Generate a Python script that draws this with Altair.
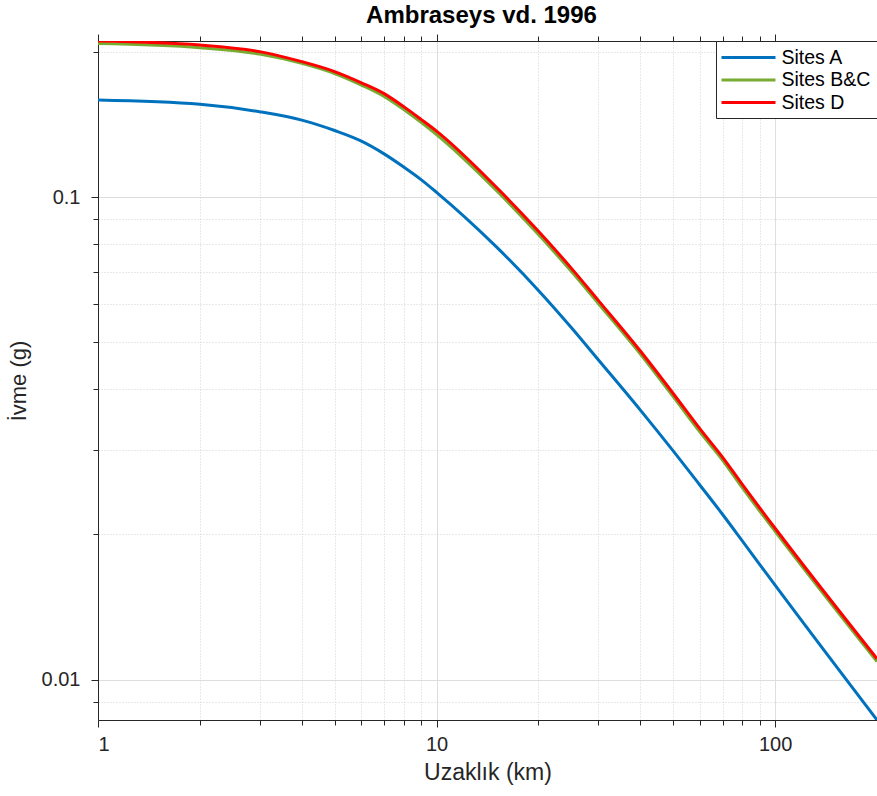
import altair as alt
import pandas as pd

# Ambraseys et al. (1996) peak ground acceleration vs. distance
distance_km = [1, 2, 3, 4, 5, 6, 7, 8, 9, 10, 15, 20, 25, 30, 40, 50, 60, 70, 80, 100, 200]
sites_a = [0.1590, 0.1558, 0.1504, 0.1445, 0.1375, 0.1307, 0.1230, 0.1155, 0.1088, 0.1024,
           0.0790, 0.0641, 0.0537, 0.0461, 0.0362, 0.0298, 0.0253, 0.0220, 0.0194, 0.0157, 0.00825]
sites_bc = [0.2082, 0.2042, 0.1981, 0.1895, 0.1805, 0.1708, 0.1618, 0.1520, 0.1430, 0.1349,
            0.1034, 0.0837, 0.0702, 0.0603, 0.0473, 0.0386, 0.0326, 0.0285, 0.0250, 0.0203, 0.0109]
sites_d = [0.2108, 0.2068, 0.2004, 0.1910, 0.1822, 0.1727, 0.1640, 0.1541, 0.1450, 0.1371,
           0.1050, 0.0850, 0.0713, 0.0612, 0.0480, 0.0392, 0.0331, 0.0289, 0.0254, 0.0206, 0.01105]

series_names = ["Sites A", "Sites B&C", "Sites D"]
series_colors = ["#0072BD", "#77AC30", "#FF0000"]

x_ticks = [1, 2, 3, 4, 5, 6, 7, 8, 9, 10, 20, 30, 40, 50, 60, 70, 80, 90, 100]
y_ticks = [0.009, 0.01, 0.02, 0.03, 0.04, 0.05, 0.06, 0.07, 0.08, 0.09, 0.1, 0.2]

FONT = "Liberation Sans"
AXIS_COLOR = "#262626"

rows = []
for name, vals in zip(series_names, [sites_a, sites_bc, sites_d]):
    for d, v in zip(distance_km, vals):
        rows.append({"Uzaklik": d, "Ivme": v, "Site": name})
df = pd.DataFrame(rows)

all_vals = sites_a + sites_bc + sites_d
y_domain = [min(all_vals), max(all_vals)]
x_domain = [min(distance_km), max(distance_km)]

x_major = "datum.value == 1 || datum.value == 10 || datum.value == 100"
y_major = "datum.value == 0.01 || datum.value == 0.1"


def cond(test, major, minor):
    return {"condition": {"test": test, "value": major}, "value": minor}


x_scale = alt.Scale(type="log", domain=x_domain, nice=False)
y_scale = alt.Scale(type="log", domain=y_domain, nice=False)

lines = alt.Chart(df).mark_line(strokeWidth=3, clip=True, interpolate="monotone").encode(
    x=alt.X(
        "Uzaklik:Q",
        scale=x_scale,
        axis=alt.Axis(
            orient="bottom",
            values=x_ticks,
            format="~g",
            labelExpr=f"({x_major}) ? datum.label : ''",
            grid=True,
            gridColor=cond(x_major, "#dedede", "#d2d2d2"),
            gridDash=cond(x_major, [], [1, 2]),
            gridWidth=1,
            tickSize=cond(x_major, 7, 5),
            tickColor=AXIS_COLOR,
            domainColor=AXIS_COLOR,
            labelFont=FONT,
            labelFontSize=20,
            labelColor=AXIS_COLOR,
            labelPadding=7,
            title="Uzaklık (km)",
            titleFont=FONT,
            titleFontSize=23,
            titleFontWeight="normal",
            titleColor=AXIS_COLOR,
            titlePadding=7,
        ),
    ),
    y=alt.Y(
        "Ivme:Q",
        scale=y_scale,
        axis=alt.Axis(
            orient="left",
            values=y_ticks,
            format="~g",
            labelExpr=f"({y_major}) ? datum.label : ''",
            grid=True,
            gridColor=cond(y_major, "#dedede", "#d2d2d2"),
            gridDash=cond(y_major, [], [1, 2]),
            gridWidth=1,
            tickSize=cond(y_major, 7, 5),
            tickColor=AXIS_COLOR,
            domainColor=AXIS_COLOR,
            labelFont=FONT,
            labelFontSize=20,
            labelColor=AXIS_COLOR,
            labelPadding=11,
            title="İvme (g)",
            titleFont=FONT,
            titleFontSize=22,
            titleFontWeight="normal",
            titleColor=AXIS_COLOR,
            titlePadding=11,
        ),
    ),
    color=alt.Color(
        "Site:N",
        scale=alt.Scale(domain=series_names, range=series_colors),
        legend=alt.Legend(
            title=None,
            orient="top-right",
            offset=0,
            symbolType="M-3,0H3",
            symbolSize=324,
            symbolStrokeWidth=3,
            symbolOffset=16,
            labelOffset=22.5,
            labelFont=FONT,
            labelFontSize=19.5,
            labelColor="#000000",
            rowPadding=2.5,
            padding=6,
            strokeColor=AXIS_COLOR,
            fillColor="white",
            cornerRadius=0,
        ),
    ),
    order=alt.Order("Uzaklik:Q"),
)

# mirrored top axis (box style frame with outward ticks)
top_axis = alt.Chart(df).mark_point(opacity=0).encode(
    x=alt.X(
        "Uzaklik:Q",
        scale=x_scale,
        axis=alt.Axis(
            orient="top",
            values=x_ticks,
            labels=False,
            grid=False,
            tickSize=cond(x_major, 7, 5),
            tickColor=AXIS_COLOR,
            domainColor=AXIS_COLOR,
            title=None,
        ),
    ),
    y=alt.Y("Ivme:Q", scale=y_scale),
)

chart = (
    alt.layer(lines, top_axis)
    .resolve_axis(x="independent")
    .properties(
        width=779,
        height=679,
        autosize=alt.AutoSizeParams(type="none"),
        padding={"left": 98, "top": 41, "right": 0, "bottom": 76},
        title=alt.TitleParams(
            "Ambraseys vd. 1996",
            font=FONT,
            fontSize=24,
            fontWeight="bold",
            color="#000000",
            anchor="middle",
            offset=6,
            dx=-6,
        ),
    )
    .configure_view(stroke=None)
    .configure(background="white")
)

chart.save("out.html", embed_options={"renderer": "svg", "actions": False})
